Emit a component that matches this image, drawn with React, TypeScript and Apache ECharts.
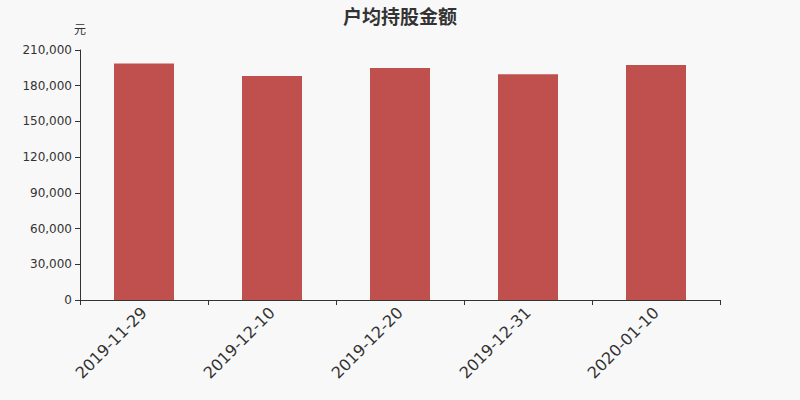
import { useRef, useEffect } from "react";
import * as echarts from "echarts";

const dates = ["2019-11-29", "2019-12-10", "2019-12-20", "2019-12-31", "2020-01-10"];
const amounts = [198700, 188200, 194900, 189600, 197400];

export default function App() {
  const chartRef = useRef<HTMLDivElement>(null);

  useEffect(() => {
    if (!chartRef.current) return;
    const chart = echarts.init(chartRef.current, null, { renderer: "svg" });

    chart.setOption({
      animation: false,
      backgroundColor: "#f8f8f8",
      textStyle: { fontFamily: "DejaVu Sans, Noto Sans CJK SC, sans-serif" },
      title: {
        text: "户均持股金额",
        left: "center",
        top: 2,
        textStyle: { fontSize: 19, fontWeight: "bold", color: "#333" },
      },
      grid: { left: 80, right: 80, top: 50, bottom: 100 },
      xAxis: {
        type: "category",
        data: dates,
        axisLine: { lineStyle: { color: "#333" } },
        axisTick: { show: true, lineStyle: { color: "#333" } },
        axisLabel: { rotate: 45, fontSize: 16, color: "#333", margin: 10 },
      },
      yAxis: {
        type: "value",
        name: "元",
        nameGap: 14,
        nameTextStyle: { color: "#333", fontSize: 12, align: "center" },
        min: 0,
        max: 210000,
        interval: 30000,
        axisLine: { show: true, lineStyle: { color: "#333" } },
        axisTick: { show: true, lineStyle: { color: "#333" } },
        splitLine: { show: false },
        axisLabel: {
          color: "#333",
          fontSize: 12,
          formatter: (v: number) => v.toLocaleString("en-US"),
        },
      },
      series: [
        {
          type: "bar",
          data: amounts,
          barWidth: 60,
          itemStyle: { color: "#c0504d" },
        },
      ],
    });

    return () => chart.dispose();
  }, []);

  return (
    <div
      ref={chartRef}
      style={{ position: "absolute", left: 0, top: 0, width: 800, height: 400 }}
    />
  );
}
